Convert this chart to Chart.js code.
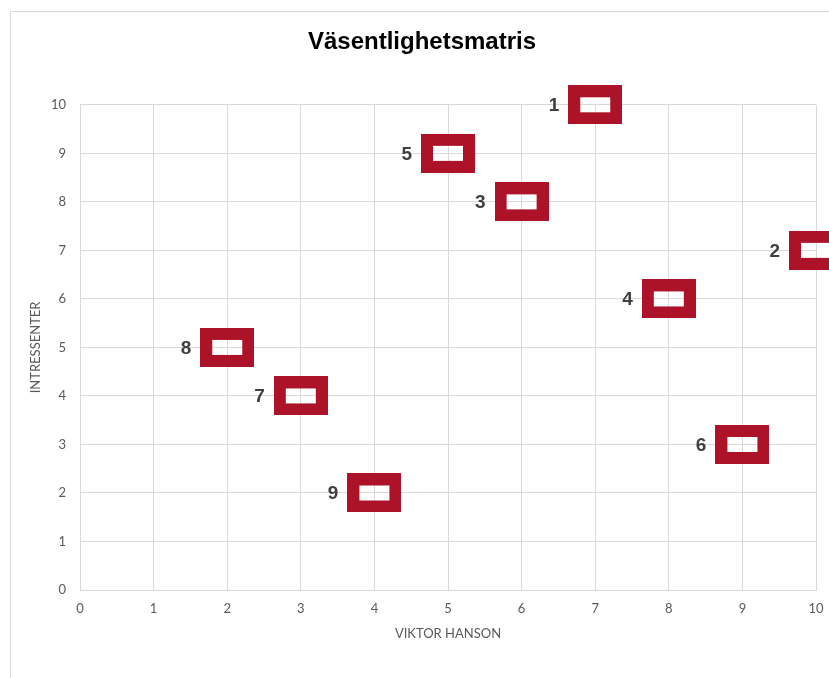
<!DOCTYPE html>
<html>
<head>
<meta charset="utf-8">
<script src="https://cdn.jsdelivr.net/npm/chart.js@4"></script>
<style>
  html, body { margin: 0; padding: 0; background: #fff; overflow: hidden; }
  #wrap { position: relative; width: 829px; height: 678px; }
  #frame { position: absolute; left: 10px; top: 11px; width: 840px; height: 700px; border: 1px solid #d9d9d9; }
  canvas { position: absolute; left: 0; top: 0; }
</style>
</head>
<body>
<div id="wrap">
  <div id="frame"></div>
  <canvas id="matris"></canvas>
</div>
<script>
// Data
const labels = ["1", "2", "3", "4", "5", "6", "7", "8", "9"];
const viktor = [7, 10, 6, 8, 5, 9, 3, 2, 4];
const intressenter = [10, 7, 8, 6, 9, 3, 4, 5, 2];
const tickValues = [0, 1, 2, 3, 4, 5, 6, 7, 8, 9, 10];

const red = "#AD1328";
const grey = "#595959";

// Markör: röd ram med genomskinlig mitt
const marker = document.createElement("canvas");
marker.width = 54;
marker.height = 39;
const mctx = marker.getContext("2d");
mctx.fillStyle = red;
mctx.fillRect(0, 0, 54, 39);
mctx.clearRect(12, 12, 30, 15);

// Nummer till vänster om varje markör
const pointLabels = {
  id: "pointLabels",
  afterDatasetsDraw(chart) {
    const ctx = chart.ctx;
    const meta = chart.getDatasetMeta(0);
    ctx.save();
    ctx.font = "bold 19px 'Liberation Sans', Arial, sans-serif";
    ctx.fillStyle = "#404040";
    ctx.textAlign = "right";
    ctx.textBaseline = "middle";
    meta.data.forEach((pt, i) => {
      ctx.fillText(labels[i], pt.x - 36, pt.y + 1);
    });
    ctx.restore();
  }
};

new Chart(document.getElementById("matris"), {
  type: "scatter",
  data: {
    labels: labels,
    datasets: [{
      label: "Väsentlighet",
      data: viktor.map((v, i) => ({ x: v, y: intressenter[i] })),
      pointStyle: marker,
      pointRadius: 20,
      pointHoverRadius: 20,
      clip: false
    }]
  },
  options: {
    responsive: true,
    maintainAspectRatio: false,
    animation: false,
    layout: { autoPadding: false, padding: { left: 28, right: 13, top: 0, bottom: 0 } },
    plugins: {
      legend: { display: false },
      tooltip: { enabled: false },
      title: {
        display: true,
        text: "Väsentlighetsmatris",
        color: "#000",
        font: { family: "'Liberation Sans', Arial, sans-serif", size: 24, weight: "bold", lineHeight: 1.2 },
        padding: { top: 28, bottom: 48 }
      }
    },
    scales: {
      x: {
        type: "linear",
        min: 0,
        max: 10,
        afterBuildTicks: axis => { axis.ticks = tickValues.map(v => ({ value: v })); },
        afterFit: axis => { axis.height = 88; axis.paddingRight = 0; axis.paddingLeft = 0; },
        grid: { color: "#d9d9d9", drawTicks: false },
        border: { color: "#d9d9d9" },
        ticks: { color: grey, padding: 11, font: { family: "Lato, sans-serif", size: 13 } },
        title: {
          display: true,
          text: "VIKTOR HANSON",
          color: grey,
          font: { family: "Lato, sans-serif", size: 13 },
          padding: { top: 0, bottom: 36 }
        }
      },
      y: {
        type: "linear",
        min: 0,
        max: 10,
        afterBuildTicks: axis => { axis.ticks = tickValues.map(v => ({ value: v })); },
        afterFit: axis => { axis.width = 52; },
        grid: { color: "#d9d9d9", drawTicks: false },
        border: { display: false },
        ticks: { color: grey, padding: 14, font: { family: "Lato, sans-serif", size: 13 } },
        title: {
          display: true,
          text: "INTRESSENTER",
          color: grey,
          font: { family: "Lato, sans-serif", size: 13 },
          padding: { top: 0, bottom: 0 }
        }
      }
    }
  },
  plugins: [pointLabels]
});
</script>
</body>
</html>
